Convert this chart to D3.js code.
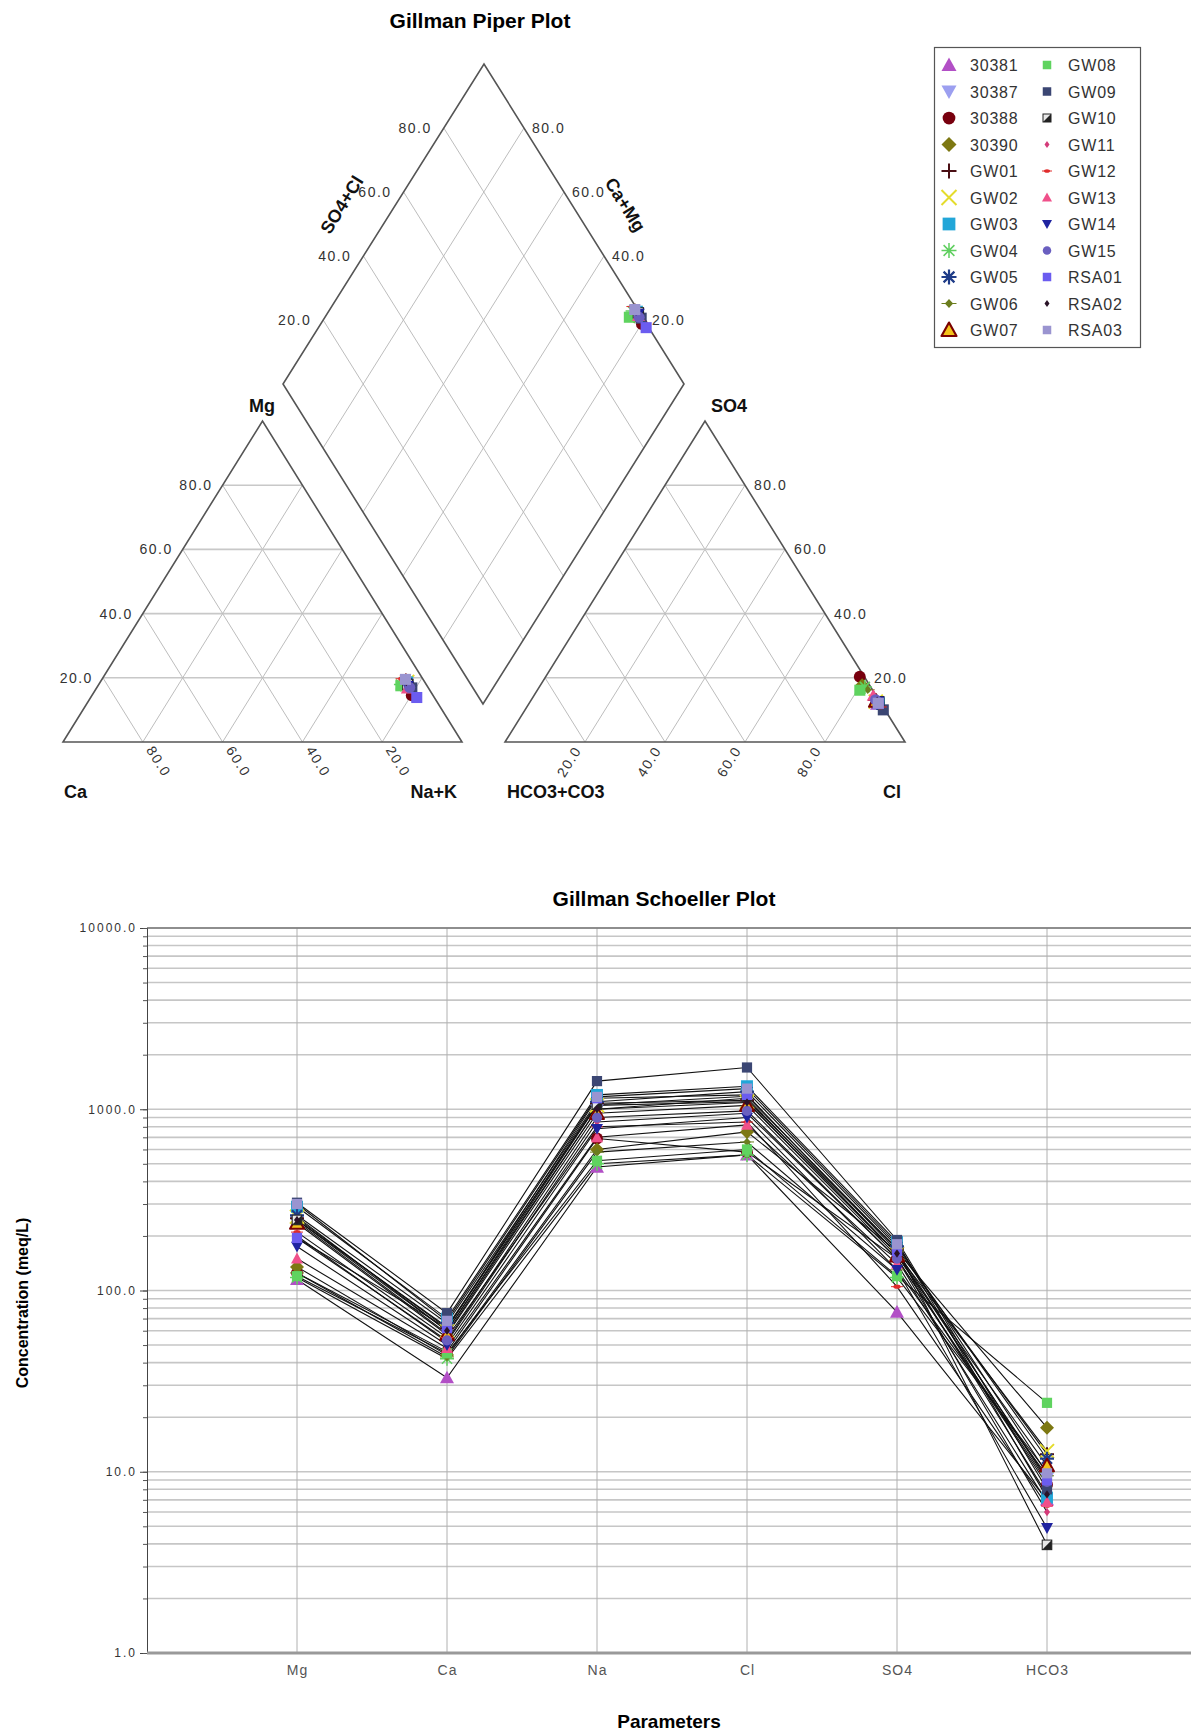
<!DOCTYPE html>
<html>
<head>
<meta charset="utf-8">
<script src="https://cdnjs.cloudflare.com/ajax/libs/d3/7.8.5/d3.min.js"></script>
<style>
body { margin: 0; background: #fff; }
svg { font-family: "Liberation Sans", Arial, sans-serif; }
</style>
</head>
<body>
<svg id="chart" width="1191" height="1731"></svg>
<script>
// sample data (meq/L)
const samples = ["30381","30387","30388","30390","GW01","GW02","GW03","GW04","GW05","GW06","GW07",
                 "GW08","GW09","GW10","GW11","GW12","GW13","GW14","GW15","RSA01","RSA02","RSA03"];
const mgVals   = [115, 240, 125, 135, 250, 255, 290, 118, 260, 125, 235, 120, 305, 245, 200, 210, 150, 175, 195, 195, 245, 300];
const caVals   = [33, 58, 46, 44, 62, 60, 70, 42, 66, 43, 57, 45, 75, 63, 52, 55, 48, 50, 53, 62, 60, 68];
const naVals   = [480, 1000, 690, 600, 1080, 1050, 1200, 500, 1100, 580, 950, 520, 1430, 1060, 850, 800, 700, 780, 900, 1150, 1000, 1170];
const clVals   = [560, 1150, 580, 750, 1120, 1100, 1340, 560, 1250, 660, 1050, 600, 1700, 1180, 950, 850, 820, 900, 980, 1200, 1090, 1300];
const so4Vals  = [76, 160, 150, 165, 170, 160, 185, 118, 175, 130, 155, 120, 190, 170, 150, 105, 140, 130, 150, 165, 160, 180];
const hco3Vals = [7.0, 9.2, 8.5, 17.5, 12.5, 13.0, 7.2, 10.0, 11.8, 9.5, 10.8, 24.0, 8.0, 3.95, 6.0, 6.5, 6.8, 4.9, 8.8, 9.0, 7.5, 9.8];

const params = ["Mg", "Ca", "Na", "Cl", "SO4", "HCO3"];
const gridPct = [20, 40, 60, 80];
const yMajor = [1, 10, 100, 1000, 10000];

// marker styles
const markerShape = ["tri","trid","circle","diamond","plus","x","square","aster","aster","dot","tri2",
                     "square","square","half","sdiam","dash","tri","trid","circle","square","sdiam","square"];
const markerColor = ["#b24fc6","#9c9ff0","#78000e","#7d7812","#4a0f14","#e4dc2c","#22a6d8","#5fcf5f","#1f3c88","#6b7d1e","#f3c21a",
                     "#5fd35f","#3b4673","#222222","#d43b79","#e02c2c","#f0508a","#1f23a0","#6a5fc0","#6b5cf0","#2a1328","#9a94d0"];

const svg = d3.select("#chart");

function marker(g, i, x, y, r) {
    const c = markerColor[i];
    const m = g.append("g").attr("transform", `translate(${x},${y})`);
    switch (markerShape[i]) {
        case "tri":
            m.append("path").attr("d", `M0,${-r}L${r},${r * 0.8}L${-r},${r * 0.8}Z`).attr("fill", c);
            break;
        case "tri2":
            m.append("path").attr("d", `M0,${-r}L${r},${r * 0.8}L${-r},${r * 0.8}Z`)
                .attr("fill", c).attr("stroke", "#7a0000").attr("stroke-width", Math.max(1.5, r / 3.5)).attr("stroke-linejoin", "round");
            break;
        case "trid":
            m.append("path").attr("d", `M0,${r}L${r},${-r * 0.8}L${-r},${-r * 0.8}Z`).attr("fill", c);
            break;
        case "circle":
            m.append("circle").attr("r", r * 0.85).attr("fill", c);
            break;
        case "diamond":
            m.append("path").attr("d", `M0,${-r}L${r},0L0,${r}L${-r},0Z`).attr("fill", c);
            break;
        case "plus":
            m.append("path").attr("d", `M${-r},0H${r}M0,${-r}V${r}`).attr("stroke", c).attr("stroke-width", 2).attr("fill", "none");
            break;
        case "x":
            m.append("path").attr("d", `M${-r},${-r}L${r},${r}M${-r},${r}L${r},${-r}`).attr("stroke", c).attr("stroke-width", 2).attr("fill", "none");
            break;
        case "aster": {
            const k = r * 0.72;
            m.append("path").attr("d", `M${-r},0H${r}M0,${-r}V${r}M${-k},${-k}L${k},${k}M${-k},${k}L${k},${-k}`)
                .attr("stroke", c).attr("stroke-width", i === 8 ? 2.2 : 1.5).attr("fill", "none");
            break;
        }
        case "square":
            m.append("rect").attr("x", -r * 0.85).attr("y", -r * 0.85).attr("width", r * 1.7).attr("height", r * 1.7).attr("fill", c);
            break;
        case "half":
            m.append("rect").attr("x", -r * 0.8).attr("y", -r * 0.8).attr("width", r * 1.6).attr("height", r * 1.6)
                .attr("fill", "#e8e8e8").attr("stroke", "#222").attr("stroke-width", 1);
            m.append("path").attr("d", `M${r * 0.8},${-r * 0.8}L${r * 0.8},${r * 0.8}L${-r * 0.8},${r * 0.8}Z`).attr("fill", "#222");
            break;
        case "sdiam":
            m.append("path").attr("d", `M0,${-r * 0.7}L${r * 0.5},0L0,${r * 0.7}L${-r * 0.5},0Z`).attr("fill", c);
            break;
        case "dash":
            m.append("ellipse").attr("rx", r * 0.6).attr("ry", r * 0.35).attr("fill", c);
            m.append("path").attr("d", `M${-r},0H${r}`).attr("stroke", c).attr("stroke-width", 1);
            break;
        case "dot":
            m.append("path").attr("d", `M${-r},0H${r}`).attr("stroke", c).attr("stroke-width", 1);
            m.append("path").attr("d", `M0,${-r * 0.6}L${r * 0.55},0L0,${r * 0.6}L${-r * 0.55},0Z`).attr("fill", c);
            break;
    }
}

const secondCol = i => i >= 11;

// ---------------- Piper plot ----------------
const piper = svg.append("g");

piper.append("text").attr("x", 480).attr("y", 28).attr("text-anchor", "middle")
    .style("font-size", "21px").style("font-weight", "bold").text("Gillman Piper Plot");

// cation triangle
const cx = d3.scaleLinear().domain([0, 100]).range([63, 462]);
const cy = d3.scaleLinear().domain([0, 100]).range([742, 421]);
const cation = (mgP, naP) => [cx(naP + mgP / 2), cy(mgP)];
// anion triangle
const ax = d3.scaleLinear().domain([0, 100]).range([505, 905]);
const anion = (so4P, clP) => [ax(clP + so4P / 2), cy(so4P)];
// diamond
const dOrigin = [483, 704];
const cmX = d3.scaleLinear().domain([0, 100]).range([0, -200]);
const cmY = d3.scaleLinear().domain([0, 100]).range([0, -320]);
const scX = d3.scaleLinear().domain([0, 100]).range([0, 201]);
const scY = d3.scaleLinear().domain([0, 100]).range([0, -320]);
const dia = (cm, sc) => [dOrigin[0] + cmX(cm) + scX(sc), dOrigin[1] + cmY(cm) + scY(sc)];

const line = d3.line();
const gridColor = "#bdbdbd";

function seg(g, p1, p2, color, w) {
    g.append("path").attr("d", line([p1, p2])).attr("stroke", color).attr("stroke-width", w).attr("fill", "none");
}

// grids
gridPct.forEach(p => {
    seg(piper, cation(p, 0), cation(p, 100 - p), "#c8c8c8", 1.6);
    seg(piper, cation(0, p), cation(100 - p, p), gridColor, 1);
    seg(piper, cation(0, 100 - p), cation(100 - p, 0), gridColor, 1);

    seg(piper, anion(p, 0), anion(p, 100 - p), "#c8c8c8", 1.6);
    seg(piper, anion(0, p), anion(100 - p, p), gridColor, 1);
    seg(piper, anion(0, 100 - p), anion(100 - p, 0), gridColor, 1);

    seg(piper, dia(p, 0), dia(p, 100), gridColor, 1);
    seg(piper, dia(0, p), dia(100, p), gridColor, 1);
});

// outlines
const edge = "#555";
piper.append("path").attr("d", line([cation(0, 0), cation(0, 100), cation(100, 0)]) + "Z")
    .attr("fill", "none").attr("stroke", edge).attr("stroke-width", 1.6);
piper.append("path").attr("d", line([anion(0, 0), anion(0, 100), anion(100, 0)]) + "Z")
    .attr("fill", "none").attr("stroke", edge).attr("stroke-width", 1.6);
piper.append("path").attr("d", line([dia(0, 0), dia(100, 0), dia(100, 100), dia(0, 100)]) + "Z")
    .attr("fill", "none").attr("stroke", edge).attr("stroke-width", 1.6);

// tick labels
const tickStyle = t => t.style("font-size", "14px").style("letter-spacing", "1.5px").attr("fill", "#333");
gridPct.forEach(p => {
    const lbl = d3.format(".1f")(p);
    let q = cation(p, 0);
    piper.append("text").attr("x", q[0] - 10).attr("y", q[1] + 5).attr("text-anchor", "end").call(tickStyle).text(lbl);
    q = cation(0, p);
    piper.append("text").attr("transform", `translate(${q[0] + 3},${q[1] + 8}) rotate(58)`).call(tickStyle).text(d3.format(".1f")(100 - p));
    q = anion(p, 100 - p);
    piper.append("text").attr("x", q[0] + 9).attr("y", q[1] + 5).call(tickStyle).text(lbl);
    q = anion(0, p);
    piper.append("text").attr("transform", `translate(${q[0] - 3},${q[1] + 8}) rotate(-58)`).attr("text-anchor", "end").call(tickStyle).text(lbl);
    q = dia(100, p);
    piper.append("text").attr("x", q[0] - 12).attr("y", q[1] + 5).attr("text-anchor", "end").call(tickStyle).text(lbl);
    q = dia(p, 100);
    piper.append("text").attr("x", q[0] + 8).attr("y", q[1] + 5).call(tickStyle).text(lbl);
});

// corner / axis names
const nameStyle = t => t.style("font-size", "18px").style("font-weight", "bold").attr("fill", "#111");
piper.append("text").attr("x", 262).attr("y", 412).attr("text-anchor", "middle").call(nameStyle).text("Mg");
piper.append("text").attr("x", 64).attr("y", 798).call(nameStyle).text("Ca");
piper.append("text").attr("x", 457).attr("y", 798).attr("text-anchor", "end").call(nameStyle).text("Na+K");
piper.append("text").attr("x", 729).attr("y", 412).attr("text-anchor", "middle").call(nameStyle).text("SO4");
piper.append("text").attr("x", 507).attr("y", 798).call(nameStyle).text("HCO3+CO3");
piper.append("text").attr("x", 901).attr("y", 798).attr("text-anchor", "end").call(nameStyle).text("Cl");
piper.append("text").attr("transform", "translate(347,208) rotate(-58)").attr("text-anchor", "middle").call(nameStyle).text("SO4+Cl");
piper.append("text").attr("transform", "translate(620,208) rotate(58)").attr("text-anchor", "middle").call(nameStyle).text("Ca+Mg");

// points
const pts = piper.append("g");
samples.forEach((s, i) => {
    const cTot = mgVals[i] + caVals[i] + naVals[i];
    const aTot = so4Vals[i] + clVals[i] + hco3Vals[i];
    const mgP = mgVals[i] / cTot * 100, naP = naVals[i] / cTot * 100;
    const so4P = so4Vals[i] / aTot * 100, clP = clVals[i] / aTot * 100;
    const r = secondCol(i) ? 6.5 : 7;
    let q = cation(mgP, naP);
    marker(pts, i, q[0], q[1], r);
    q = anion(so4P, clP);
    marker(pts, i, q[0], q[1], r);
    q = dia(100 - naP, so4P + clP);
    marker(pts, i, q[0], q[1], r);
});

// legend
const legend = svg.append("g");
legend.append("rect").attr("x", 934.5).attr("y", 47.5).attr("width", 206).attr("height", 300)
    .attr("fill", "#fff").attr("stroke", "#555").attr("stroke-width", 1.2);
samples.forEach((s, i) => {
    const col = secondCol(i) ? 1 : 0;
    const row = col ? i - 11 : i;
    const y = 65 + row * 26.5;
    const mx = col ? 1047 : 949;
    marker(legend, i, mx, y, col ? 5 : 7.5);
    legend.append("text").attr("x", mx + 21).attr("y", y + 6).style("font-size", "16px").style("letter-spacing", "0.8px")
        .attr("fill", "#333").text(s);
});

// ---------------- Schoeller plot ----------------
const sch = svg.append("g");
const x = d3.scalePoint().domain(params).range([147, 1197]).padding(1);
const y = d3.scaleLog().domain([1, 10000]).range([1653, 928]);
const minor = [];
yMajor.slice(0, 4).forEach(d => { for (let k = 1; k < 10; k++) minor.push(d * k); });
minor.push(10000);

sch.append("text").attr("x", 664).attr("y", 906).attr("text-anchor", "middle")
    .style("font-size", "21px").style("font-weight", "bold").text("Gillman Schoeller Plot");

// horizontal grid
sch.selectAll(".hgrid").data(minor).enter().append("line")
    .attr("x1", 147).attr("x2", 1191).attr("y1", d => y(d)).attr("y2", d => y(d))
    .attr("stroke", "#c6c6c6").attr("stroke-width", 1.6);
// vertical grid
sch.selectAll(".vgrid").data(params).enter().append("line")
    .attr("x1", d => x(d)).attr("x2", d => x(d)).attr("y1", 928).attr("y2", 1653)
    .attr("stroke", "#b0b0b0").attr("stroke-width", 1);

// top border
sch.append("line").attr("x1", 147).attr("x2", 1191).attr("y1", 928).attr("y2", 928).attr("stroke", "#777").attr("stroke-width", 1.5);

// y axis
const yAxis = sch.append("g").attr("transform", "translate(147,0)")
    .call(d3.axisLeft(y).tickValues(yMajor).tickFormat(d3.format(".1f")).tickSize(7));
yAxis.select(".domain").attr("stroke", "#444");
yAxis.selectAll("line").attr("stroke", "#444");
yAxis.selectAll("text").style("font-size", "12px").style("letter-spacing", "2px").attr("fill", "#333")
    .style("font-family", "'Liberation Sans', Arial, sans-serif");
const yMinor = sch.append("g").attr("transform", "translate(147,0)")
    .call(d3.axisLeft(y).tickValues(minor).tickFormat("").tickSize(4));
yMinor.select(".domain").remove();
yMinor.selectAll("line").attr("stroke", "#555");

// x axis
const xAxis = sch.append("g").attr("transform", "translate(0,1653)")
    .call(d3.axisBottom(x).tickSize(0).tickPadding(12));
xAxis.select(".domain").remove();
xAxis.selectAll("text").style("font-size", "14px").style("letter-spacing", "1px").attr("fill", "#555")
    .style("font-family", "'Liberation Sans', Arial, sans-serif");
sch.append("line").attr("x1", 147).attr("x2", 1191).attr("y1", 1653).attr("y2", 1653).attr("stroke", "#999").attr("stroke-width", 3);

// axis titles
sch.append("text").attr("transform", "translate(28,1303) rotate(-90)").attr("text-anchor", "middle")
    .style("font-size", "16px").style("font-weight", "bold").text("Concentration (meq/L)");
sch.append("text").attr("x", 669).attr("y", 1728).attr("text-anchor", "middle")
    .style("font-size", "19px").style("font-weight", "bold").text("Parameters");

// series
const series = samples.map((s, i) => [mgVals[i], caVals[i], naVals[i], clVals[i], so4Vals[i], hco3Vals[i]]);
const sLine = d3.line().x((d, j) => x(params[j])).y(d => y(d));
sch.selectAll(".sline").data(series).enter().append("path")
    .attr("d", sLine).attr("fill", "none").attr("stroke", "#111").attr("stroke-width", 1.1);
const smk = sch.append("g");
series.forEach((vals, i) => {
    vals.forEach((v, j) => marker(smk, i, x(params[j]), y(v), secondCol(i) ? 6 : 7));
});
</script>
</body>
</html>
